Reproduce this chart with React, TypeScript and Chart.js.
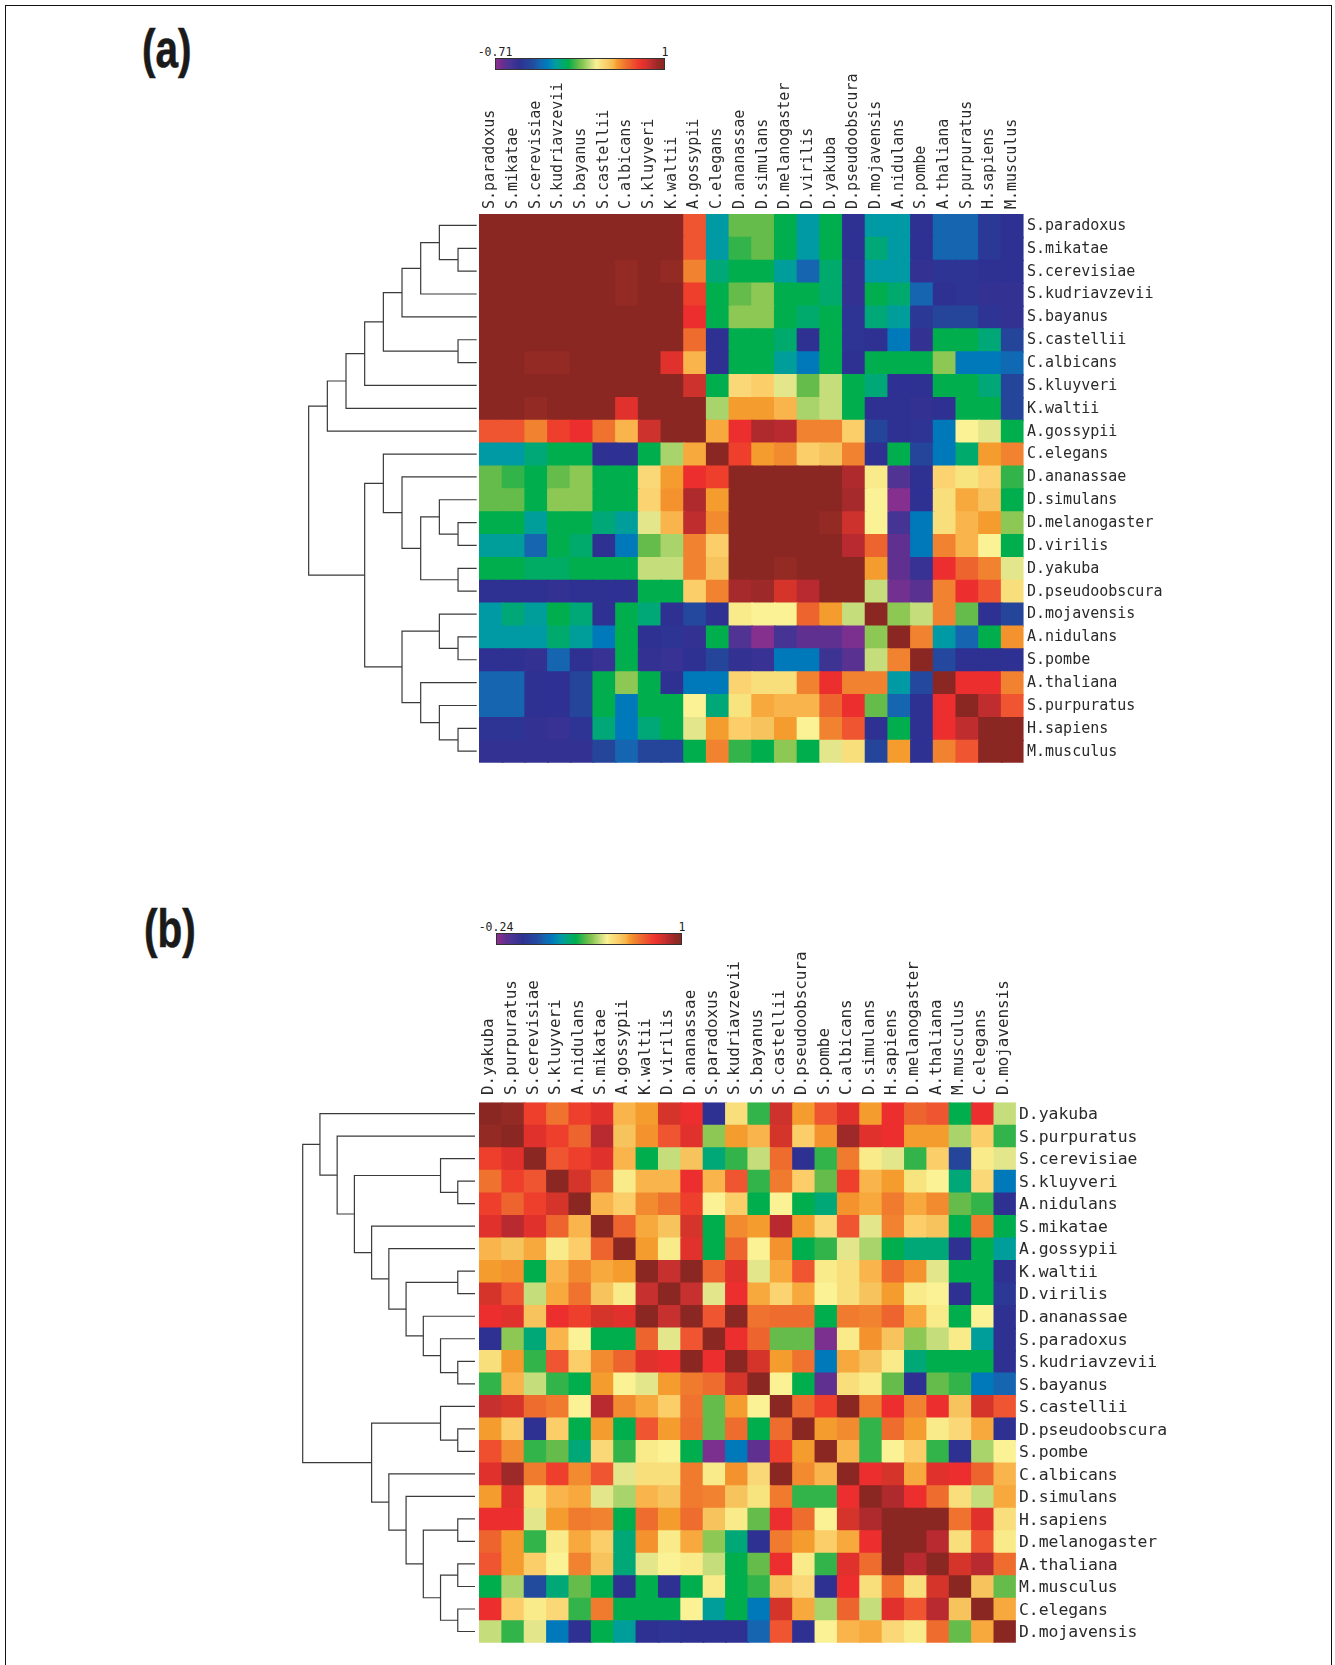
import React, { useEffect, useRef } from "react";
import { Chart, registerables } from "chart.js";

Chart.register(...registerables);

const namesA = ["S.paradoxus","S.mikatae","S.cerevisiae","S.kudriavzevii","S.bayanus","S.castellii","C.albicans","S.kluyveri","K.waltii","A.gossypii","C.elegans","D.ananassae","D.simulans","D.melanogaster","D.virilis","D.yakuba","D.pseudoobscura","D.mojavensis","A.nidulans","S.pombe","A.thaliana","S.purpuratus","H.sapiens","M.musculus"];
const namesB = ["D.yakuba","S.purpuratus","S.cerevisiae","S.kluyveri","A.nidulans","S.mikatae","A.gossypii","K.waltii","D.virilis","D.ananassae","S.paradoxus","S.kudriavzevii","S.bayanus","S.castellii","D.pseudoobscura","S.pombe","C.albicans","D.simulans","H.sapiens","D.melanogaster","A.thaliana","M.musculus","C.elegans","D.mojavensis"];

// Cell values as a position (0-100) along each panel's colour bar.
const valuesA = [
[100,100,100,100,100,100,100,100,100,81,35,49,49,43,35,43,14,35,35,14,26,26,16,14],
[100,100,100,100,100,100,100,100,100,81,35,46,49,43,35,43,14,39,35,14,26,26,16,14],
[100,100,100,100,100,100,97,100,97,75,39,43,43,36,26,40,13,35,35,13,15,15,14,14],
[100,100,100,100,100,100,97,100,100,84,43,49,52,43,43,40,13,43,40,26,14,15,13,13],
[100,100,100,100,100,100,100,100,100,87,43,52,52,43,40,43,15,39,36,16,20,20,15,13],
[100,100,100,100,100,100,100,100,100,78,14,43,43,40,14,43,15,14,30,13,43,43,39,20],
[100,100,97,97,100,100,100,100,88,70,14,43,43,36,30,43,14,43,43,43,52,30,30,27],
[100,100,100,100,100,100,100,100,100,90,43,64,66,58,49,56,43,39,14,14,43,43,39,20],
[100,100,97,100,100,100,88,100,100,100,54,72,72,70,54,56,43,14,14,13,14,43,43,20],
[81,81,75,84,87,77,70,90,100,100,71,87,94,93,75,75,66,20,14,15,30,60,58,43],
[35,35,39,43,43,14,14,43,54,71,100,84,72,74,66,68,75,14,43,20,30,40,72,75],
[49,46,43,49,52,43,43,64,72,87,84,100,100,100,100,100,94,61,7,14,65,62,65,46],
[49,49,43,52,52,43,43,65,73,94,72,100,100,100,100,100,95,60,1,14,63,71,68,43],
[43,43,36,43,43,39,36,58,70,92,74,100,100,100,100,97,90,60,9,30,63,70,72,52],
[36,36,26,43,40,14,30,49,54,75,66,100,100,100,100,100,93,79,5,30,75,70,60,43],
[43,43,41,41,43,43,43,56,56,75,68,100,100,97,100,100,100,72,5,12,87,79,75,58],
[14,14,14,13,14,14,14,43,43,66,75,95,96,89,93,100,100,56,3,6,75,87,81,63],
[35,39,36,43,39,14,43,39,14,21,14,61,60,60,79,72,56,100,52,56,75,49,14,20],
[35,35,35,40,36,30,43,14,15,13,43,7,1,9,5,5,2,52,100,75,35,26,43,73],
[14,14,13,26,14,12,43,13,12,14,20,13,12,30,30,11,6,56,75,100,21,14,14,14],
[26,26,14,14,20,43,52,43,14,30,30,65,63,63,75,87,75,75,35,21,100,87,87,75],
[26,26,14,14,20,43,30,43,43,60,39,62,71,70,70,79,87,49,26,14,87,100,92,81],
[15,15,13,12,15,39,30,39,43,58,72,66,68,72,60,75,81,14,43,14,87,92,100,100],
[13,13,13,13,13,20,26,20,20,43,75,46,43,52,43,58,63,20,72,14,75,81,100,100],
];
const valuesB = [
[100,97,84,77,84,88,70,72,89,87,14,63,46,90,72,81,88,72,87,79,81,43,87,56],
[97,100,88,84,79,93,68,73,81,88,52,72,70,89,66,73,96,88,87,72,72,54,66,46],
[84,88,100,81,84,88,70,43,56,68,39,46,56,78,14,46,76,61,58,46,66,20,61,58],
[77,84,81,100,89,79,61,70,70,87,70,81,46,76,66,49,84,70,72,62,60,39,64,30],
[84,79,84,89,100,70,66,74,77,84,60,66,43,60,43,39,73,71,76,71,74,49,46,14],
[88,93,88,79,70,100,79,71,68,89,43,74,72,93,72,64,81,58,75,66,68,43,76,43],
[70,68,71,61,66,79,100,72,61,88,43,79,60,73,43,46,58,54,43,39,39,14,43,36],
[72,73,43,70,74,71,72,100,91,100,79,88,58,71,81,61,63,70,78,73,58,43,43,14],
[89,81,56,71,77,68,61,91,100,91,58,87,71,65,71,60,63,68,72,61,60,14,43,16],
[87,88,68,87,84,89,88,100,91,100,81,100,77,78,78,43,76,75,79,71,61,43,60,14],
[14,52,39,70,60,43,43,79,58,81,100,87,79,49,49,2,61,73,68,52,56,61,36,14],
[63,72,46,81,66,74,79,88,87,100,87,100,89,72,77,30,71,68,61,39,43,43,43,14],
[46,70,56,46,43,72,60,58,72,76,78,89,100,60,43,5,63,61,49,14,49,46,30,26],
[91,89,78,76,60,93,74,71,66,77,49,72,60,100,78,84,100,76,87,75,87,68,89,81],
[72,66,14,66,43,72,43,81,72,78,49,78,43,78,100,72,74,46,78,72,61,64,71,14],
[82,74,46,49,39,64,46,61,60,43,2,30,5,84,72,100,70,46,60,66,46,14,54,60],
[88,96,76,84,74,81,58,63,63,76,61,73,64,100,74,70,100,87,89,71,88,87,79,70],
[72,88,62,70,71,58,54,70,68,76,75,68,62,76,46,46,87,100,94,87,78,63,56,71],
[87,87,58,72,76,75,43,78,72,78,68,61,49,87,78,60,89,94,100,100,100,77,88,63],
[79,72,46,61,71,66,39,73,61,71,52,39,14,76,72,66,71,87,100,100,93,63,81,61],
[81,72,66,60,75,68,39,58,60,61,56,43,49,87,61,46,88,78,100,93,100,89,93,78],
[43,54,22,39,49,43,14,43,14,43,61,43,46,68,64,14,87,63,77,63,89,100,68,49],
[87,66,61,64,46,76,43,43,43,60,36,43,30,89,71,54,79,56,88,81,93,68,100,71],
[56,46,58,30,14,43,36,14,15,14,14,14,26,81,14,60,70,71,64,61,78,49,71,100],
];

// Dendrograms: [left, right, merge level]; a plain number is a row index.
const treeA: any = [
  [[[[[[[0,[1,2,1],2],3,3],4,4],[5,6,1],5],7,6],8,7],9,8],
  [[10,[11,[[12,[13,14,1],2],[15,16,1],3],4],5],[[17,[18,19,1],2],[20,[21,[22,23,1],2],3],4],6],
  9,
];
const treeB: any = [
  [0,[1,[[2,[3,4,1],2],[5,[6,[[7,8,1],[9,[10,[11,12,1],2],3],4],5],6],7],8],9],
  [[13,[14,15,1],2],[16,[17,[[18,19,1],[[20,21,1],[22,23,1],2],3],4],5],6],
  10,
];

const scaleLabelsA = ["-0.71", "1"];
const scaleLabelsB = ["-0.24", "1"];

const colorPos = [0,5,8,14,22,26,30,35,39,43,46,49,52,54,56,58,60,62,64,66,68,70,72,75,78,81,84,87,89,91,93,95,97,100];
const colorHex = ["#8E2F8F","#5F3090","#4A3494","#2E3192","#224B9E","#1565B0","#0079BA","#009AA5","#00A877","#00AE4E","#33B44A","#66BC4A","#8DC854","#A9D46C","#C6DD7C","#E4E68B","#FAF295","#F8E47F","#FAD878","#FBCE6A","#F6C35C","#F9B54C","#F59C2E","#F1822F","#EE6C2E","#EF5530","#EE3F2C","#EC2E2F","#D5342A","#C6302E","#B82A2F","#A62A2B","#942A24","#8B2723"];

function rgb(hex: string) {
  return [1, 3, 5].map((i) => parseInt(hex.slice(i, i + 2), 16));
}
function colorOf(v: number) {
  for (let i = 1; i < colorPos.length; i++) {
    if (v <= colorPos[i]) {
      const f = (v - colorPos[i - 1]) / (colorPos[i] - colorPos[i - 1]);
      const a = rgb(colorHex[i - 1]);
      const b = rgb(colorHex[i]);
      return `rgb(${a.map((c, k) => Math.round(c + (b[k] - c) * f)).join(",")})`;
    }
  }
  return colorHex[colorHex.length - 1];
}

function treeSegments(node: any, out: any[]): number {
  if (typeof node === "number") return node;
  const level = (n: any) => (typeof n === "number" ? 0 : n[2]);
  const ya = treeSegments(node[0], out);
  const yb = treeSegments(node[1], out);
  out.push([
    { x: level(node[0]), y: ya },
    { x: node[2], y: ya },
    { x: node[2], y: yb },
    { x: level(node[1]), y: yb },
  ]);
  return (ya + yb) / 2;
}

type Panel = {
  names: string[]; values: number[][]; tree: any;
  canvasLeft: number; canvasTop: number; canvasW: number; canvasH: number;
  areaLeft: number; areaTop: number; areaRight: number; areaBottom: number;
  heatLeft: number; heatTop: number; cellW: number; cellH: number;
  leafX: number; levelStep: number; labelShift: number; labelShiftY: number;
  topFont: number; rightFont: number; topPadding: number;
};

const panelA: Panel = {
  names: namesA, values: valuesA, tree: treeA,
  canvasLeft: 299, canvasTop: 60, canvasW: 900, canvasH: 724,
  areaLeft: 299, areaTop: 210, areaRight: 1025, areaBottom: 772,
  heatLeft: 479, heatTop: 214, cellW: 22.69, cellH: 22.86,
  leafX: 476.7, levelStep: 18.67, labelShift: 18, labelShiftY: 0.5,
  topFont: 15, rightFont: 15, topPadding: 1,
};
const panelB: Panel = {
  names: namesB, values: valuesB, tree: treeB,
  canvasLeft: 295, canvasTop: 935, canvasW: 900, canvasH: 722,
  areaLeft: 295, areaTop: 1098, areaRight: 1017, areaBottom: 1645,
  heatLeft: 479, heatTop: 1102.3, cellW: 22.37, cellH: 22.52,
  leafX: 475, levelStep: 17.23, labelShift: 18, labelShiftY: 1.5,
  topFont: 15.9, rightFont: 16.4, topPadding: 3,
};

// Range of a linear axis whose value 0 lands on pixel `zero`, one unit being `unit` pixels.
const rangeFor = (start: number, end: number, zero: number, unit: number) => ({
  min: (start - zero) / unit,
  max: (end - zero) / unit,
});

function HeatPanel({ p }: { p: Panel }) {
  const ref = useRef<HTMLCanvasElement>(null);
  useEffect(() => {
    const idx = p.names.map((_, i) => i);
    const cells: any[] = [];
    p.values.forEach((row, y) => row.forEach((v, x) => cells.push({ x, y, v })));
    const segs: any[] = [];
    treeSegments(p.tree, segs);
    // Squares overlap their later neighbours' edges so no seams show between cells.
    const side = Math.max(p.cellW, p.cellH) + 1.5;
    const heatRight = p.heatLeft + 24 * p.cellW;
    const heatBottom = p.heatTop + 24 * p.cellH;
    const setTicks = (s: any) => { s.ticks = idx.map((value) => ({ value })); };
    const chart = new Chart(ref.current!, {
      type: "scatter",
      data: {
        datasets: [
          {
            data: cells,
            pointStyle: "rect",
            pointRadius: side / Math.SQRT2,
            pointBorderWidth: 0,
            pointBackgroundColor: (c: any) => colorOf(c.raw?.v ?? 0),
            xAxisID: "xc",
            yAxisID: "yc",
            clip: {
              left: -(p.heatLeft - p.areaLeft),
              top: -(p.heatTop - p.areaTop),
              right: -(p.areaRight - heatRight),
              bottom: -(p.areaBottom - heatBottom),
            },
          },
          ...segs.map((data) => ({
            data,
            showLine: true,
            pointRadius: 0,
            borderColor: "#3a3a3a",
            borderWidth: 1.2,
            xAxisID: "xd",
            yAxisID: "yd",
          })),
        ] as any,
      },
      options: {
        animation: false,
        responsive: false,
        events: [],
        layout: { padding: { left: p.areaLeft - p.canvasLeft, right: 0, top: 0, bottom: p.canvasTop + p.canvasH - p.areaBottom }, autoPadding: false },
        plugins: { legend: { display: false }, tooltip: { enabled: false }, title: { display: false } },
        scales: {
          x: {
            type: "linear",
            position: "top",
            ...rangeFor(p.areaLeft, p.areaRight, p.heatLeft + p.cellW / 2 + p.labelShift, p.cellW),
            afterBuildTicks: setTicks,
            afterFit: (s: any) => { s.height = p.areaTop - p.canvasTop; },
            grid: { display: false, drawTicks: false, tickLength: 0 },
            border: { display: false },
            ticks: {
              autoSkip: false, minRotation: 90, maxRotation: 90, padding: p.topPadding,
              font: { family: "'DejaVu Sans Mono'", size: p.topFont }, color: "#2a2a2a",
              callback: (v: any) => p.names[v] ?? "",
            },
          },
          xc: {
            type: "linear",
            display: false,
            ...rangeFor(p.areaLeft, p.areaRight, p.heatLeft + side / 2, p.cellW),
          },
          xd: {
            type: "linear",
            display: false,
            reverse: true,
            min: (p.leafX - p.areaRight) / p.levelStep,
            max: (p.leafX - p.areaLeft) / p.levelStep,
          },
          y: {
            type: "linear",
            position: "right",
            reverse: true,
            ...rangeFor(p.areaTop, p.areaBottom, p.heatTop + p.cellH / 2 + p.labelShiftY, p.cellH),
            afterBuildTicks: setTicks,
            afterFit: (s: any) => { s.width = p.canvasLeft + p.canvasW - p.areaRight; },
            grid: { display: false, drawTicks: false, tickLength: 0 },
            border: { display: false },
            ticks: {
              autoSkip: false, padding: 2,
              font: { family: "'DejaVu Sans Mono'", size: p.rightFont }, color: "#2a2a2a",
              callback: (v: any) => p.names[v] ?? "",
            },
          },
          yc: {
            type: "linear",
            display: false,
            reverse: true,
            ...rangeFor(p.areaTop, p.areaBottom, p.heatTop + side / 2, p.cellH),
          },
          yd: {
            type: "linear",
            display: false,
            reverse: true,
            ...rangeFor(p.areaTop, p.areaBottom, p.heatTop + p.cellH / 2, p.cellH),
          },
        },
      } as any,
    });
    return () => chart.destroy();
  }, [p]);
  return (
    <canvas
      ref={ref}
      width={p.canvasW}
      height={p.canvasH}
      style={{ position: "absolute", left: p.canvasLeft, top: p.canvasTop, width: p.canvasW, height: p.canvasH }}
    />
  );
}

const gradient = `linear-gradient(to right, ${colorPos.map((q, i) => `${colorHex[i]} ${q}%`).join(", ")})`;

function ColorBar({ left, top, width, labels }: { left: number; top: number; width: number; labels: string[] }) {
  const textStyle: React.CSSProperties = {
    position: "absolute", top: top - 12, transform: "translateX(-50%)",
    font: "11.5px 'DejaVu Sans Mono'", color: "#222", lineHeight: "13px", whiteSpace: "nowrap",
  };
  return (
    <>
      <div style={{ position: "absolute", left, top, width, height: 10, background: gradient, border: "1px solid #333" }} />
      <span style={{ ...textStyle, left }}>{labels[0]}</span>
      <span style={{ ...textStyle, left: left + width + 2 }}>{labels[1]}</span>
    </>
  );
}

function PanelTag({ text, left, top }: { text: string; left: number; top: number }) {
  return (
    <div style={{
      position: "absolute", left, top, fontFamily: "'Liberation Sans'",
      fontWeight: 700, fontSize: 54, lineHeight: "60px", color: "#1a1a1a", WebkitTextStroke: "0.6px #1a1a1a",
      transform: "scaleX(0.75)", transformOrigin: "left top",
    }}>{text}</div>
  );
}

export default function App() {
  return (
    <div style={{ position: "absolute", left: 0, top: 0, width: 1335, height: 1665, overflow: "hidden", background: "#fff" }}>
      <div style={{ position: "absolute", left: 5, top: 5, width: 1325, height: 1680, border: "1px solid #111" }} />
      <PanelTag text="(a)" left={142} top={18} />
      <PanelTag text="(b)" left={144} top={898} />
      <ColorBar left={495} top={58} width={168} labels={scaleLabelsA} />
      <ColorBar left={496} top={933} width={184} labels={scaleLabelsB} />
      <HeatPanel p={panelA} />
      <HeatPanel p={panelB} />
    </div>
  );
}
